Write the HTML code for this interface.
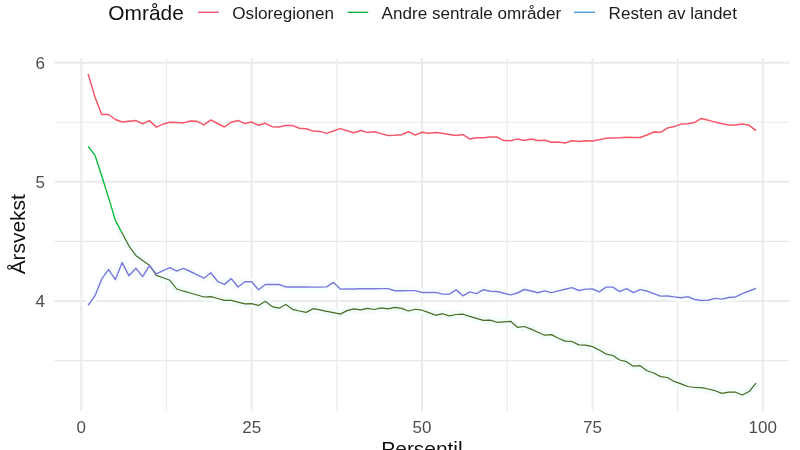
<!DOCTYPE html>
<html><head><meta charset="utf-8"><title>plot</title>
<style>
html,body{margin:0;padding:0;background:#fff;}
body{width:800px;height:450px;overflow:hidden;font-family:"Liberation Sans",sans-serif;}
svg{display:block;filter:blur(0.45px);}
text{font-family:"Liberation Sans",sans-serif;}
</style></head><body>
<svg width="800" height="450" viewBox="0 0 800 450">
<rect width="800" height="450" fill="#ffffff"/>
<defs>
<clipPath id="ctop"><rect x="0" y="0" width="800" height="232"/></clipPath>
<clipPath id="cbot"><rect x="0" y="232" width="800" height="218"/></clipPath>
</defs>

<g stroke="#e9e9e9" stroke-width="1.15" fill="none">
<line x1="54.6" x2="789.2" y1="122.28" y2="122.28"/>
<line x1="54.6" x2="789.2" y1="241.43" y2="241.43"/>
<line x1="54.6" x2="789.2" y1="360.57" y2="360.57"/>
<line y1="58" y2="411" x1="166.49" x2="166.49"/>
<line y1="58" y2="411" x1="336.86" x2="336.86"/>
<line y1="58" y2="411" x1="507.24" x2="507.24"/>
<line y1="58" y2="411" x1="677.61" x2="677.61"/>
</g>
<g stroke="#ebebeb" stroke-width="2" fill="none">
<line x1="54.6" x2="789.2" y1="62.70" y2="62.70"/>
<line x1="54.6" x2="789.2" y1="181.85" y2="181.85"/>
<line x1="54.6" x2="789.2" y1="301.00" y2="301.00"/>
<line y1="58" y2="411" x1="81.30" x2="81.30"/>
<line y1="58" y2="411" x1="251.68" x2="251.68"/>
<line y1="58" y2="411" x1="422.05" x2="422.05"/>
<line y1="58" y2="411" x1="592.43" x2="592.43"/>
<line y1="58" y2="411" x1="762.80" x2="762.80"/>
</g>
<g fill="none" stroke-width="1.35" stroke-linejoin="round" stroke-linecap="butt">
<path d="M88.11,146.40 L94.93,155.10 L101.75,176.00 L108.56,197.60 L115.38,220.40 L122.19,233.30 L129.00,246.10 L135.82,255.40 L142.63,260.60 L149.45,265.20 L156.26,275.40 L163.08,277.70 L169.89,280.30 L176.71,289.00 L183.53,291.20 L190.34,293.00 L197.16,295.00 L203.97,297.00 L210.79,296.70 L217.60,298.50 L224.42,300.40 L231.23,300.40 L238.05,302.10 L244.86,303.80 L251.68,303.70 L258.49,305.40 L265.31,301.30 L272.12,306.60 L278.94,308.20 L285.75,304.50 L292.56,309.30 L299.38,311.00 L306.19,312.35 L313.01,308.70 L319.82,309.90 L326.64,311.30 L333.45,312.70 L340.27,314.10 L347.09,310.60 L353.90,308.90 L360.72,309.90 L367.53,308.40 L374.35,309.50 L381.16,307.80 L387.98,308.90 L394.79,307.30 L401.61,308.40 L408.42,311.00 L415.24,309.25 L422.05,310.20 L428.87,312.60 L435.68,315.30 L442.50,313.70 L449.31,315.90 L456.13,314.50 L462.94,314.20 L469.76,316.40 L476.57,318.40 L483.39,320.40 L490.20,320.10 L497.02,322.30 L503.83,321.80 L510.65,321.30 L517.46,327.30 L524.27,326.50 L531.09,329.10 L537.90,332.30 L544.72,335.20 L551.53,334.60 L558.35,338.20 L565.16,341.10 L571.98,341.50 L578.79,344.90 L585.61,345.20 L592.43,346.60 L599.24,350.00 L606.05,354.10 L612.87,355.50 L619.68,360.00 L626.50,361.70 L633.31,366.20 L640.13,365.65 L646.94,370.70 L653.76,373.00 L660.57,376.60 L667.39,377.50 L674.21,381.40 L681.02,383.90 L687.84,386.50 L694.65,387.50 L701.47,387.60 L708.28,389.00 L715.10,390.70 L721.91,393.40 L728.73,392.10 L735.54,392.20 L742.36,395.00 L749.17,391.50 L755.99,383.10" stroke="#f2fcfb" stroke-width="8" clip-path="url(#cbot)"/>
<path d="M88.11,305.20 L94.93,295.90 L101.75,278.90 L108.56,269.60 L115.38,279.60 L122.19,262.60 L129.00,275.80 L135.82,268.30 L142.63,276.60 L149.45,265.70 L156.26,273.90 L163.08,270.70 L169.89,267.60 L176.71,271.10 L183.53,268.30 L190.34,271.50 L197.16,274.90 L203.97,278.20 L210.79,272.70 L217.60,281.30 L224.42,284.40 L231.23,278.60 L238.05,287.00 L244.86,281.70 L251.68,281.70 L258.49,289.80 L265.31,284.50 L272.12,284.50 L278.94,284.50 L285.75,286.90 L292.56,286.90 L299.38,286.90 L306.19,287.00 L313.01,287.10 L319.82,287.10 L326.64,286.90 L333.45,282.40 L340.27,289.10 L347.09,288.90 L353.90,288.90 L360.72,288.80 L367.53,288.80 L374.35,288.80 L381.16,288.60 L387.98,288.60 L394.79,290.80 L401.61,290.80 L408.42,290.60 L415.24,290.65 L422.05,292.45 L428.87,292.50 L435.68,292.40 L442.50,294.10 L449.31,294.10 L456.13,289.90 L462.94,295.80 L469.76,291.90 L476.57,293.60 L483.39,289.70 L490.20,291.30 L497.02,291.50 L503.83,293.30 L510.65,294.90 L517.46,293.00 L524.27,289.50 L531.09,291.00 L537.90,292.70 L544.72,290.90 L551.53,292.60 L558.35,290.90 L565.16,289.30 L571.98,287.60 L578.79,290.50 L585.61,289.10 L592.43,289.00 L599.24,291.90 L606.05,287.10 L612.87,287.10 L619.68,291.60 L626.50,288.70 L633.31,292.70 L640.13,289.65 L646.94,291.00 L653.76,293.60 L660.57,296.10 L667.39,296.00 L674.21,296.90 L681.02,297.80 L687.84,296.60 L694.65,299.50 L701.47,300.55 L708.28,300.20 L715.10,298.40 L721.91,299.15 L728.73,297.50 L735.54,296.95 L742.36,293.60 L749.17,291.05 L755.99,288.40" stroke="#f7fdfd" stroke-width="8"/>
<path d="M88.11,73.90 L94.93,96.90 L101.75,114.50 L108.56,114.50 L115.38,119.50 L122.19,122.00 L129.00,121.30 L135.82,120.60 L142.63,123.80 L149.45,120.60 L156.26,127.10 L163.08,124.10 L169.89,122.30 L176.71,122.40 L183.53,122.90 L190.34,121.00 L197.16,121.30 L203.97,124.90 L210.79,119.90 L217.60,123.50 L224.42,127.00 L231.23,122.20 L238.05,120.40 L244.86,123.60 L251.68,122.10 L258.49,125.30 L265.31,123.30 L272.12,126.70 L278.94,127.00 L285.75,125.60 L292.56,125.60 L299.38,128.30 L306.19,128.80 L313.01,131.10 L319.82,131.40 L326.64,133.40 L333.45,131.00 L340.27,128.60 L347.09,130.80 L353.90,132.80 L360.72,130.50 L367.53,132.40 L374.35,131.70 L381.16,133.60 L387.98,135.50 L394.79,135.30 L401.61,134.70 L408.42,131.70 L415.24,135.10 L422.05,132.30 L428.87,133.20 L435.68,132.50 L442.50,133.30 L449.31,134.40 L456.13,135.60 L462.94,134.60 L469.76,138.90 L476.57,137.70 L483.39,137.80 L490.20,136.90 L497.02,137.00 L503.83,140.60 L510.65,140.80 L517.46,138.90 L524.27,140.55 L531.09,138.90 L537.90,140.60 L544.72,140.20 L551.53,142.30 L558.35,141.90 L565.16,143.00 L571.98,140.80 L578.79,141.60 L585.61,140.80 L592.43,140.90 L599.24,139.70 L606.05,138.30 L612.87,138.00 L619.68,137.70 L626.50,137.20 L633.31,137.50 L640.13,137.50 L646.94,135.00 L653.76,132.00 L660.57,132.30 L667.39,128.10 L674.21,126.60 L681.02,124.10 L687.84,123.80 L694.65,122.40 L701.47,118.45 L708.28,120.15 L715.10,122.10 L721.91,123.85 L728.73,125.00 L735.54,124.90 L742.36,124.00 L749.17,125.35 L755.99,130.60" stroke="#f4566a" stroke-width="1.5"/>
<path d="M88.11,146.40 L94.93,155.10 L101.75,176.00 L108.56,197.60 L115.38,220.40 L122.19,233.30 L129.00,246.10 L135.82,255.40 L142.63,260.60 L149.45,265.20 L156.26,275.40 L163.08,277.70 L169.89,280.30 L176.71,289.00 L183.53,291.20 L190.34,293.00 L197.16,295.00 L203.97,297.00 L210.79,296.70 L217.60,298.50 L224.42,300.40 L231.23,300.40 L238.05,302.10 L244.86,303.80 L251.68,303.70 L258.49,305.40 L265.31,301.30 L272.12,306.60 L278.94,308.20 L285.75,304.50 L292.56,309.30 L299.38,311.00 L306.19,312.35 L313.01,308.70 L319.82,309.90 L326.64,311.30 L333.45,312.70 L340.27,314.10 L347.09,310.60 L353.90,308.90 L360.72,309.90 L367.53,308.40 L374.35,309.50 L381.16,307.80 L387.98,308.90 L394.79,307.30 L401.61,308.40 L408.42,311.00 L415.24,309.25 L422.05,310.20 L428.87,312.60 L435.68,315.30 L442.50,313.70 L449.31,315.90 L456.13,314.50 L462.94,314.20 L469.76,316.40 L476.57,318.40 L483.39,320.40 L490.20,320.10 L497.02,322.30 L503.83,321.80 L510.65,321.30 L517.46,327.30 L524.27,326.50 L531.09,329.10 L537.90,332.30 L544.72,335.20 L551.53,334.60 L558.35,338.20 L565.16,341.10 L571.98,341.50 L578.79,344.90 L585.61,345.20 L592.43,346.60 L599.24,350.00 L606.05,354.10 L612.87,355.50 L619.68,360.00 L626.50,361.70 L633.31,366.20 L640.13,365.65 L646.94,370.70 L653.76,373.00 L660.57,376.60 L667.39,377.50 L674.21,381.40 L681.02,383.90 L687.84,386.50 L694.65,387.50 L701.47,387.60 L708.28,389.00 L715.10,390.70 L721.91,393.40 L728.73,392.10 L735.54,392.20 L742.36,395.00 L749.17,391.50 L755.99,383.10" stroke="#00ba38" clip-path="url(#ctop)"/>
<path d="M88.11,146.40 L94.93,155.10 L101.75,176.00 L108.56,197.60 L115.38,220.40 L122.19,233.30 L129.00,246.10 L135.82,255.40 L142.63,260.60 L149.45,265.20 L156.26,275.40 L163.08,277.70 L169.89,280.30 L176.71,289.00 L183.53,291.20 L190.34,293.00 L197.16,295.00 L203.97,297.00 L210.79,296.70 L217.60,298.50 L224.42,300.40 L231.23,300.40 L238.05,302.10 L244.86,303.80 L251.68,303.70 L258.49,305.40 L265.31,301.30 L272.12,306.60 L278.94,308.20 L285.75,304.50 L292.56,309.30 L299.38,311.00 L306.19,312.35 L313.01,308.70 L319.82,309.90 L326.64,311.30 L333.45,312.70 L340.27,314.10 L347.09,310.60 L353.90,308.90 L360.72,309.90 L367.53,308.40 L374.35,309.50 L381.16,307.80 L387.98,308.90 L394.79,307.30 L401.61,308.40 L408.42,311.00 L415.24,309.25 L422.05,310.20 L428.87,312.60 L435.68,315.30 L442.50,313.70 L449.31,315.90 L456.13,314.50 L462.94,314.20 L469.76,316.40 L476.57,318.40 L483.39,320.40 L490.20,320.10 L497.02,322.30 L503.83,321.80 L510.65,321.30 L517.46,327.30 L524.27,326.50 L531.09,329.10 L537.90,332.30 L544.72,335.20 L551.53,334.60 L558.35,338.20 L565.16,341.10 L571.98,341.50 L578.79,344.90 L585.61,345.20 L592.43,346.60 L599.24,350.00 L606.05,354.10 L612.87,355.50 L619.68,360.00 L626.50,361.70 L633.31,366.20 L640.13,365.65 L646.94,370.70 L653.76,373.00 L660.57,376.60 L667.39,377.50 L674.21,381.40 L681.02,383.90 L687.84,386.50 L694.65,387.50 L701.47,387.60 L708.28,389.00 L715.10,390.70 L721.91,393.40 L728.73,392.10 L735.54,392.20 L742.36,395.00 L749.17,391.50 L755.99,383.10" stroke="#486c22" stroke-width="1.2" clip-path="url(#cbot)"/>
<path d="M88.11,305.20 L94.93,295.90 L101.75,278.90 L108.56,269.60 L115.38,279.60 L122.19,262.60 L129.00,275.80 L135.82,268.30 L142.63,276.60 L149.45,265.70 L156.26,273.90 L163.08,270.70 L169.89,267.60 L176.71,271.10 L183.53,268.30 L190.34,271.50 L197.16,274.90 L203.97,278.20 L210.79,272.70 L217.60,281.30 L224.42,284.40 L231.23,278.60 L238.05,287.00 L244.86,281.70 L251.68,281.70 L258.49,289.80 L265.31,284.50 L272.12,284.50 L278.94,284.50 L285.75,286.90 L292.56,286.90 L299.38,286.90 L306.19,287.00 L313.01,287.10 L319.82,287.10 L326.64,286.90 L333.45,282.40 L340.27,289.10 L347.09,288.90 L353.90,288.90 L360.72,288.80 L367.53,288.80 L374.35,288.80 L381.16,288.60 L387.98,288.60 L394.79,290.80 L401.61,290.80 L408.42,290.60 L415.24,290.65 L422.05,292.45 L428.87,292.50 L435.68,292.40 L442.50,294.10 L449.31,294.10 L456.13,289.90 L462.94,295.80 L469.76,291.90 L476.57,293.60 L483.39,289.70 L490.20,291.30 L497.02,291.50 L503.83,293.30 L510.65,294.90 L517.46,293.00 L524.27,289.50 L531.09,291.00 L537.90,292.70 L544.72,290.90 L551.53,292.60 L558.35,290.90 L565.16,289.30 L571.98,287.60 L578.79,290.50 L585.61,289.10 L592.43,289.00 L599.24,291.90 L606.05,287.10 L612.87,287.10 L619.68,291.60 L626.50,288.70 L633.31,292.70 L640.13,289.65 L646.94,291.00 L653.76,293.60 L660.57,296.10 L667.39,296.00 L674.21,296.90 L681.02,297.80 L687.84,296.60 L694.65,299.50 L701.47,300.55 L708.28,300.20 L715.10,298.40 L721.91,299.15 L728.73,297.50 L735.54,296.95 L742.36,293.60 L749.17,291.05 L755.99,288.40" stroke="#7a7add" stroke-width="1.45"/>
</g>
<g font-size="17" fill="#4d4d4d">
<text x="45" y="68.80" text-anchor="end">6</text>
<text x="45" y="187.95" text-anchor="end">5</text>
<text x="45" y="307.10" text-anchor="end">4</text>
<text x="81.30" y="432.6" text-anchor="middle">0</text>
<text x="251.68" y="432.6" text-anchor="middle">25</text>
<text x="422.05" y="432.6" text-anchor="middle">50</text>
<text x="592.43" y="432.6" text-anchor="middle">75</text>
<text x="762.80" y="432.6" text-anchor="middle">100</text>
</g>
<g font-size="20.9" fill="#111">
<text x="422" y="456.4" text-anchor="middle">Persentil</text>
<text transform="translate(25.3,234.3) rotate(-90)" text-anchor="middle">Årsvekst</text>
<text x="108.3" y="19.8">Område</text>
</g>
<g font-size="17.1" fill="#1c1c1c">
<text x="232.3" y="18.6">Osloregionen</text>
<text x="381.6" y="18.6">Andre sentrale områder</text>
<text x="608.6" y="18.6">Resten av landet</text>
</g>
<g stroke-width="1.35" fill="none">
<line x1="198" x2="218.8" y1="12.3" y2="12.3" stroke="#f4566a"/>
<line x1="347.5" x2="368.2" y1="12.3" y2="12.3" stroke="#0cb23e"/>
<line x1="574" x2="595" y1="12.3" y2="12.3" stroke="#4a9ade"/>
</g>
</svg></body></html>
